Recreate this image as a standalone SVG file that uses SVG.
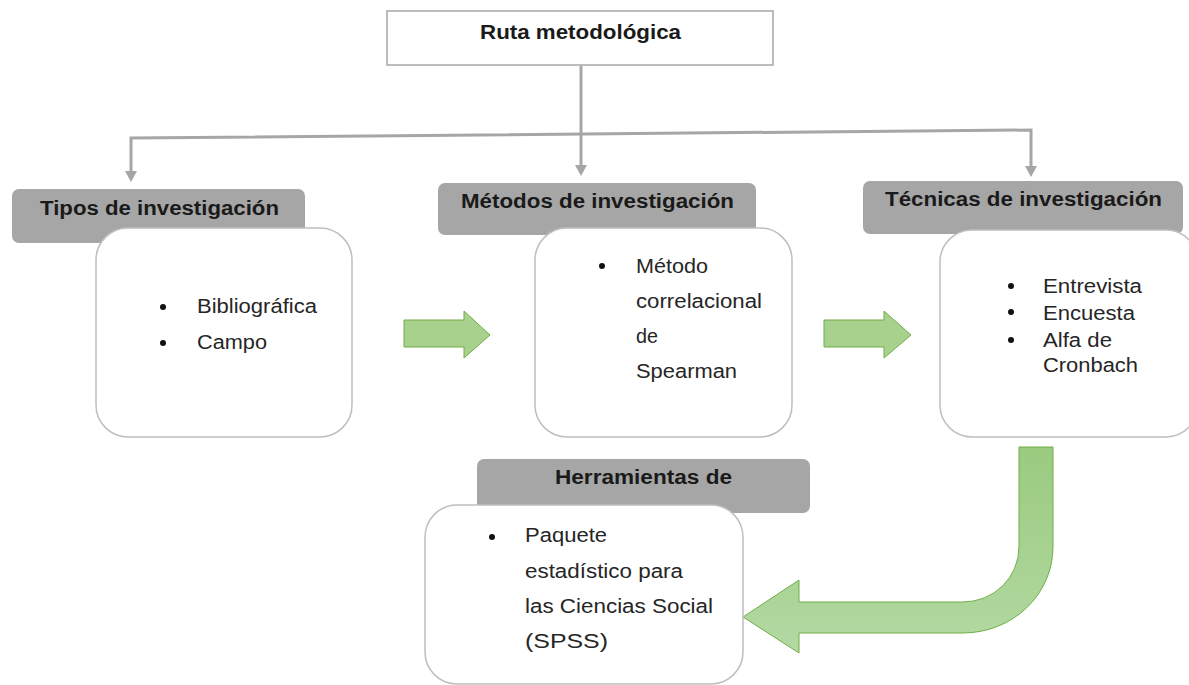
<svg xmlns="http://www.w3.org/2000/svg" width="1189" height="685" viewBox="0 0 1189 685">
<style>
  .hdr { fill: #a6a6a6; }
  .box { fill: #ffffff; stroke: #bfbfbf; stroke-width: 1.5; }
  .ht { font-family: "Liberation Sans", Arial, sans-serif; font-weight: bold; font-size: 19.5px; fill: #1a1a1a; }
  .bt { font-family: "Liberation Sans", Arial, sans-serif; font-size: 19.5px; fill: #262626; }
  .conn { fill: none; stroke: #a6a6a6; stroke-width: 3; }
  .garrow { fill: #a9d18e; stroke: #70ad47; stroke-width: 1; }
  .dot { fill: #111111; }
</style>
<defs>
  <marker id="ah" markerUnits="userSpaceOnUse" markerWidth="12" markerHeight="12" refX="6" refY="10" orient="auto-start-reverse" viewBox="0 0 12 12">
    <path d="M1 0 L11 0 L6 10 Z" fill="#a6a6a6" transform="rotate(-90 6 6)"/>
  </marker>
  <linearGradient id="gcurve" x1="0" y1="0" x2="0" y2="1">
    <stop offset="0" stop-color="#9acb7f"/>
    <stop offset="1" stop-color="#b3d9a3"/>
  </linearGradient>
</defs>

<g id="connectors">
  <polyline class="conn" points="581,66 581,167"/>
  <polyline class="conn" points="131,172 131,138 1031,130 1031,167"/>
  <path d="M575 165 L587 165 L581 176 Z" fill="#a6a6a6"/>
  <path d="M125 171 L137 171 L131 182 Z" fill="#a6a6a6"/>
  <path d="M1025 166 L1037 166 L1031 177 Z" fill="#a6a6a6"/>
  <path class="garrow" d="M404 320 L464 320 L464 311 L490 335 L464 358 L464 347 L404 347 Z"/>
  <path class="garrow" d="M824 320 L884 320 L884 311 L911 335 L884 358 L884 347 L824 347 Z"/>
  <path d="M1019 447 L1053 447 L1053 547 A90 86 0 0 1 963 633 L799 633 L799 653 L743 617 L799 580 L799 602 L963 602 A56 55 0 0 0 1019 547 Z" fill="url(#gcurve)" stroke="#70ad47" stroke-width="1"/>
</g>

<g id="ruta">
  <rect x="387" y="11" width="386" height="54" fill="#ffffff" stroke="#a6a6a6" stroke-width="1.5"/>
  <text class="ht" x="480" y="39" textLength="201" lengthAdjust="spacingAndGlyphs">Ruta metodológica</text>
</g>

<g id="tipos">
  <rect class="hdr" x="12" y="189" width="293" height="54" rx="7"/>
  <text class="ht" x="40" y="215" textLength="239" lengthAdjust="spacingAndGlyphs">Tipos de investigación</text>
  <rect class="box" x="96" y="228" width="256" height="209" rx="32"/>
  <circle class="dot" cx="163" cy="307" r="3"/>
  <circle class="dot" cx="163" cy="343" r="3"/>
  <text class="bt" x="197" y="313" textLength="120" lengthAdjust="spacingAndGlyphs">Bibliográfica</text>
  <text class="bt" x="197" y="349" textLength="70" lengthAdjust="spacingAndGlyphs">Campo</text>
</g>

<g id="metodos">
  <rect class="hdr" x="438" y="183" width="318" height="52" rx="7"/>
  <text class="ht" x="461" y="208" textLength="273" lengthAdjust="spacingAndGlyphs">Métodos de investigación</text>
  <rect class="box" x="535" y="228" width="257" height="209" rx="32"/>
  <circle class="dot" cx="602" cy="266" r="3"/>
  <text class="bt" x="636" y="273" textLength="72" lengthAdjust="spacingAndGlyphs">Método</text>
  <text class="bt" x="636" y="308" textLength="126" lengthAdjust="spacingAndGlyphs">correlacional</text>
  <text class="bt" x="636" y="343" textLength="22" lengthAdjust="spacingAndGlyphs">de</text>
  <text class="bt" x="636" y="378" textLength="101" lengthAdjust="spacingAndGlyphs">Spearman</text>
</g>

<g id="tecnicas">
  <rect class="hdr" x="863" y="181" width="320" height="53" rx="7"/>
  <text class="ht" x="885" y="206" textLength="277" lengthAdjust="spacingAndGlyphs">Técnicas de investigación</text>
  <rect class="box" x="940" y="230" width="258" height="207" rx="32"/>
  <circle class="dot" cx="1011" cy="286" r="3"/>
  <circle class="dot" cx="1011" cy="312" r="3"/>
  <circle class="dot" cx="1011" cy="340" r="3"/>
  <text class="bt" x="1043" y="293" textLength="99" lengthAdjust="spacingAndGlyphs">Entrevista</text>
  <text class="bt" x="1043" y="320" textLength="92" lengthAdjust="spacingAndGlyphs">Encuesta</text>
  <text class="bt" x="1043" y="347" textLength="69" lengthAdjust="spacingAndGlyphs">Alfa de</text>
  <text class="bt" x="1043" y="372" textLength="95" lengthAdjust="spacingAndGlyphs">Cronbach</text>
</g>

<g id="herramientas">
  <rect class="hdr" x="477" y="459" width="333" height="54" rx="7"/>
  <text class="ht" x="555" y="484" textLength="177" lengthAdjust="spacingAndGlyphs">Herramientas de</text>
  <rect class="box" x="425" y="505" width="318" height="179" rx="32"/>
  <circle class="dot" cx="492" cy="537" r="3"/>
  <text class="bt" x="525" y="542" textLength="82" lengthAdjust="spacingAndGlyphs">Paquete</text>
  <text class="bt" x="525" y="578" textLength="158" lengthAdjust="spacingAndGlyphs">estadístico para</text>
  <text class="bt" x="525" y="613" textLength="188" lengthAdjust="spacingAndGlyphs">las Ciencias Social</text>
  <text class="bt" x="525" y="648" textLength="83" lengthAdjust="spacingAndGlyphs">(SPSS)</text>
</g>
</svg>
